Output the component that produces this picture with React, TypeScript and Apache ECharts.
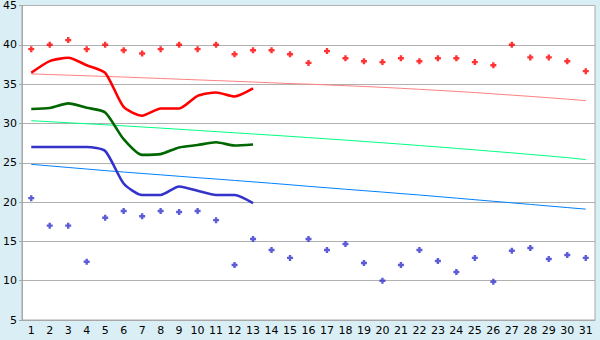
import React, { useEffect, useRef } from "react";
import * as echarts from "echarts";

const days = Array.from({ length: 31 }, (_, i) => String(i + 1));

const redPoints = [39.45, 40.0, 40.6, 39.45, 40.0, 39.3, 38.9, 39.45, 40.0, 39.45, 40.0, 38.8, 39.3, 39.3, 38.8, 37.7, 39.2, 38.3, 37.9, 37.8, 38.3, 37.9, 38.3, 38.3, 37.8, 37.4, 40.0, 38.4, 38.4, 37.9, 36.65];
const bluePoints = [20.5, 17.0, 17.0, 12.4, 18.0, 18.86, 18.2, 18.86, 18.73, 18.86, 17.7, 12.0, 15.3, 13.9, 12.9, 15.3, 13.9, 14.66, 12.25, 10.0, 12.0, 13.9, 12.5, 11.1, 12.9, 9.87, 13.8, 14.15, 12.75, 13.27, 12.9];

const redLine = [36.44, 37.93, 38.35, 37.4, 36.44, 32.1, 30.98, 31.9, 31.9, 33.5, 33.94, 33.43, 34.45];
const greenLine = [31.83, 31.96, 32.55, 32.0, 31.4, 28.0, 26.0, 26.1, 26.95, 27.25, 27.6, 27.2, 27.33];
const blueLine = [27, 27, 27, 27, 26.5, 22.36, 20.9, 20.9, 21.98, 21.44, 20.9, 20.9, 19.87];

const pinkTrend = [36.3, 36.22, 36.14, 36.06, 35.98, 35.9, 35.81, 35.72, 35.63, 35.54, 35.45, 35.36, 35.27, 35.17, 35.07, 35.0, 34.9, 34.8, 34.7, 34.59, 34.47, 34.34, 34.21, 34.07, 33.93, 33.76, 33.6, 33.44, 33.27, 33.09, 32.9];
const lightGreenTrend = [30.35, 30.22, 30.09, 29.96, 29.83, 29.69, 29.55, 29.41, 29.26, 29.11, 28.96, 28.81, 28.66, 28.51, 28.36, 28.2, 28.04, 27.88, 27.71, 27.54, 27.37, 27.19, 27.01, 26.83, 26.64, 26.45, 26.26, 26.06, 25.86, 25.65, 25.4];
const lightBlueTrend = [24.8, 24.6, 24.4, 24.2, 24.0, 23.82, 23.64, 23.46, 23.28, 23.1, 22.93, 22.75, 22.57, 22.39, 22.2, 22.0, 21.82, 21.63, 21.45, 21.27, 21.08, 20.9, 20.7, 20.5, 20.3, 20.1, 19.9, 19.7, 19.5, 19.3, 19.1];

const marker = "path://M1.5,0h2v1.5h1.5v2h-1.5v1.5h-2v-1.5h-1.5v-2h1.5z";

export default function App() {
  const ref = useRef<HTMLDivElement>(null);
  useEffect(() => {
    document.body.style.margin = "0";
    const chart = echarts.init(ref.current!, undefined, { renderer: "svg" });
    const font = { fontFamily: "DejaVu Sans", fontSize: 11, color: "#000" };
    const trend = (data: number[], color: string) => ({
      type: "line",
      data,
      symbol: "none",
      lineStyle: { color, width: 1 },
      z: 2,
    });
    const main = (data: number[], color: string) => ({
      type: "line",
      data,
      symbol: "none",
      smooth: 0.22,
      lineStyle: { color, width: 2.6 },
      z: 3,
    });
    const pts = (data: number[], color: string) => ({
      type: "scatter",
      data,
      symbol: marker,
      symbolSize: 6,
      itemStyle: { color },
      z: 4,
    });
    chart.setOption({
      animation: false,
      backgroundColor: "#daeff5",
      grid: {
        left: 20,
        right: 5,
        top: 5,
        bottom: 20,
        show: true,
        backgroundColor: "#ffffff",
        borderColor: "#a8a8a8",
        borderWidth: 1,
      },
      xAxis: {
        type: "category",
        data: days,
        boundaryGap: true,
        axisLine: { lineStyle: { color: "#a8a8a8" } },
        axisTick: { alignWithLabel: true, length: 4, lineStyle: { color: "#000" } },
        axisLabel: { ...font, margin: 5, interval: 0 },
        splitLine: { show: false },
      },
      yAxis: {
        type: "value",
        min: 5,
        max: 45,
        interval: 5,
        axisLine: { show: true, lineStyle: { color: "#a8a8a8" } },
        axisTick: { show: true, length: 3, lineStyle: { color: "#a8a8a8" } },
        axisLabel: { ...font, margin: 5 },
        splitLine: { lineStyle: { color: "#b0b0b0" } },
      },
      series: [
        trend(pinkTrend, "#ff8080"),
        trend(lightGreenTrend, "#00ff80"),
        trend(lightBlueTrend, "#0080ff"),
        main(redLine, "#ff0000"),
        main(greenLine, "#006600"),
        main(blueLine, "#3333cc"),
        pts(redPoints, "#ff0000"),
        pts(bluePoints, "#3333cc"),
      ],
    });
    return () => chart.dispose();
  }, []);
  return <div ref={ref} style={{ width: 600, height: 340 }} />;
}
